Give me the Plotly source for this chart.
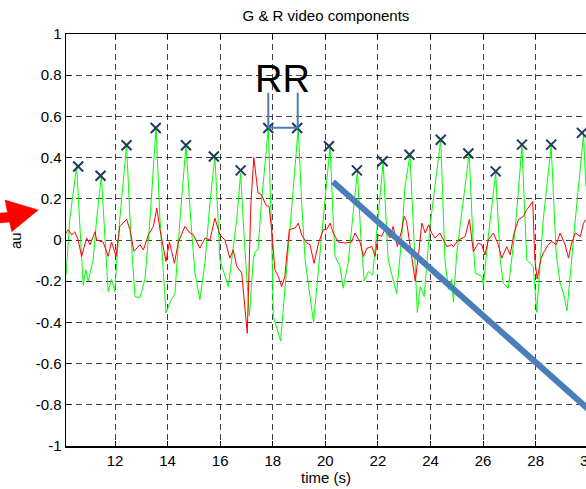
import plotly.graph_objects as go

# ---------------- data ----------------
green_t = [10.14, 10.28, 10.54, 10.64, 10.79, 10.89, 10.98, 11.17, 11.30, 11.48, 11.61, 11.74, 11.87, 11.99,
           12.18, 12.44, 12.59, 12.76, 12.95, 13.14, 13.33, 13.56, 13.71, 13.94, 14.10, 14.28, 14.47, 14.70,
           14.88, 15.04, 15.23, 15.43, 15.61, 15.80, 15.92, 15.99, 16.31, 16.44, 16.63, 16.78, 16.91, 17.11,
           17.26, 17.33, 17.44, 17.57, 17.83, 17.96, 18.02, 18.30, 18.53, 18.72, 18.97, 19.10, 19.23, 19.55,
           19.73, 19.86, 19.98, 20.18, 20.30, 20.37, 20.56, 20.68, 20.87, 21.04, 21.22, 21.35, 21.48, 21.64,
           21.80, 21.95, 22.20, 22.39, 22.71, 22.91, 23.03, 23.22, 23.35, 23.50, 23.61, 23.76, 23.98, 24.17,
           24.39, 24.55, 24.68, 24.81, 24.87, 25.00, 25.25, 25.47, 25.61, 25.70, 25.95, 26.01, 26.20, 26.48,
           26.65, 26.77, 26.96, 27.22, 27.48, 27.66, 27.91, 28.04, 28.29, 28.59, 28.78, 28.93, 29.06, 29.19,
           29.51, 29.82, 29.91]
green_v = [-0.17, 0.10, 0.357, 0.10, -0.22, -0.145, -0.20, -0.096, 0.10, 0.31, 0.02, -0.25, -0.19, -0.25,
           0.10, 0.46, 0.05, -0.275, -0.28, -0.19, 0.10, 0.544, 0.10, -0.355, -0.30, -0.26, 0.10, 0.46,
           0.10, -0.16, -0.29, -0.10, 0.18, 0.405, 0.10, -0.096, -0.226, -0.096, 0.10, 0.325, 0.02, -0.37,
           -0.096, -0.056, -0.048, 0.18, 0.544, 0.02, -0.37, -0.49, -0.145, 0.18, 0.544, 0.18, -0.096, -0.40,
           -0.16, 0.0, 0.16, 0.455, 0.10, -0.08, -0.13, -0.234, -0.11, 0.10, 0.333, 0.02, -0.20, -0.153,
           -0.17, 0.034, 0.38, -0.096, -0.26, 0.02, 0.26, 0.414, 0.02, -0.352, -0.226, -0.275, 0.066, 0.26,
           0.487, -0.096, -0.24, -0.19, -0.30, -0.064, 0.18, 0.42, 0.02, -0.16, -0.177, -0.22, 0.02, 0.325,
           -0.096, -0.21, -0.234, 0.05, 0.455, -0.096, -0.13, -0.352, 0.10, 0.455, -0.064, -0.21, -0.26, -0.343,
           0.10, 0.51, 0.26]

red_t = [10.14, 10.22, 10.35, 10.47, 10.60, 10.73, 10.92, 11.05, 11.24, 11.30, 11.55, 11.74, 11.87, 12.04,
         12.18, 12.44, 12.57, 12.72, 12.95, 13.08, 13.27, 13.46, 13.59, 13.71, 13.94, 14.07, 14.26, 14.41,
         14.66, 14.85, 14.98, 15.23, 15.43, 15.61, 15.80, 15.99, 16.18, 16.37, 16.50, 16.63, 16.82, 16.95,
         17.03, 17.17, 17.28, 17.44, 17.57, 17.74, 17.86, 17.96, 18.08, 18.21, 18.34, 18.46, 18.63, 18.85,
         18.97, 19.10, 19.29, 19.42, 19.57, 19.74, 19.92, 20.05, 20.18, 20.30, 20.49, 20.75, 21.00, 21.13,
         21.32, 21.45, 21.58, 21.77, 21.89, 22.01, 22.14, 22.26, 22.46, 22.58, 22.74, 22.91, 23.00, 23.09,
         23.22, 23.42, 23.55, 23.67, 23.80, 23.93, 24.04, 24.17, 24.36, 24.49, 24.62, 24.81, 24.87, 25.06,
         25.32, 25.48, 25.63, 25.82, 25.95, 26.07, 26.20, 26.39, 26.58, 26.71, 26.90, 27.03, 27.18, 27.35,
         27.54, 27.66, 27.78, 27.89, 27.97, 28.06, 28.19, 28.29, 28.48, 28.61, 28.78, 28.93, 29.12, 29.25,
         29.37, 29.51, 29.70, 29.82, 29.91]
red_v = [0.034, 0.05, 0.025, 0.04, 0.0, -0.08, 0.01, -0.023, 0.04, 0.0, -0.01, -0.08, -0.01, -0.08,
         0.066, 0.10, 0.05, -0.055, -0.023, -0.048, 0.025, 0.066, 0.155, 0.05, -0.104, -0.01, -0.113, -0.01,
         0.066, 0.034, 0.025, -0.04, 0.01, 0.0, 0.106, 0.025, 0.0, -0.088, -0.048, -0.128, -0.16, -0.323,
         -0.453, 0.18, 0.40, 0.228, 0.22, 0.17, 0.163, 0.05, -0.145, -0.177, -0.226, -0.177, 0.05, 0.058,
         0.082, 0.025, -0.015, -0.023, -0.113, -0.015, 0.05, 0.05, 0.082, 0.034, -0.01, -0.015, -0.01, 0.034,
         -0.01, -0.08, -0.04, -0.032, -0.08, 0.025, 0.017, 0.05, 0.01, 0.066, -0.032, 0.05, 0.115, 0.09,
         -0.032, -0.20, -0.064, 0.082, 0.034, 0.074, 0.034, 0.01, 0.034, 0.0, -0.032, -0.023, -0.032, 0.0,
         0.017, 0.10, -0.056, -0.015, -0.023, -0.072, 0.0, 0.034, -0.023, -0.088, -0.032, -0.072, 0.034, 0.10,
         0.115, 0.147, 0.17, 0.187, -0.096, -0.19, -0.096, -0.064, -0.023, -0.007, -0.023, 0.034, -0.023, -0.088,
         -0.015, 0.034, 0.017, 0.082, 0.10]

peak_t = [10.60, 11.45, 12.44, 13.55, 14.70, 15.76, 16.78, 17.83, 18.93, 20.14, 21.20, 22.18, 23.20,
          24.39, 25.44, 26.48, 27.48, 28.59, 29.76]
peak_v = [0.357, 0.312, 0.46, 0.544, 0.46, 0.405, 0.338, 0.544, 0.544, 0.455, 0.338, 0.382, 0.414,
          0.487, 0.42, 0.333, 0.463, 0.463, 0.52]

x_ticks = [12, 14, 16, 18, 20, 22, 24, 26, 28, 30]
y_ticks = [-1, -0.8, -0.6, -0.4, -0.2, 0, 0.2, 0.4, 0.6, 0.8, 1]
y_tick_text = ["-1", "-0.8", "-0.6", "-0.4", "-0.2", "0", "0.2", "0.4", "0.6", "0.8", "1"]

# overlay annotations (drawn on top of the chart in the reference)
trend_line = [(20.29, 0.283), (30.3, -0.855)]
rr_left, rr_right, rr_top, rr_bottom = 17.83, 18.95, 0.715, 0.545

FONT = "Liberation Sans, Arial, sans-serif"
BLUE = "#4A7EBB"

fig = go.Figure()
fig.add_trace(go.Scatter(x=green_t, y=green_v, mode="lines",
                         line=dict(color="#00FF00", width=1), showlegend=False))
fig.add_trace(go.Scatter(x=red_t, y=red_v, mode="lines",
                         line=dict(color="#FF0000", width=1), showlegend=False))
fig.add_trace(go.Scatter(x=peak_t, y=peak_v, mode="markers",
                         marker=dict(symbol="x-thin", size=10, color="#1F3A5F",
                                     line=dict(color="#1F3A5F", width=2)),
                         showlegend=False))

shapes = []
# thick blue diagonal line
shapes.append(dict(type="line", xref="x", yref="y",
                   x0=trend_line[0][0], y0=trend_line[0][1], x1=trend_line[1][0], y1=trend_line[1][1],
                   line=dict(color=BLUE, width=6)))
# RR bracket
shapes.append(dict(type="line", xref="x", yref="y", x0=rr_left, x1=rr_left, y0=rr_top, y1=rr_bottom,
                   line=dict(color=BLUE, width=2)))
shapes.append(dict(type="line", xref="x", yref="y", x0=rr_right, x1=rr_right, y0=rr_top, y1=rr_bottom,
                   line=dict(color=BLUE, width=2)))
shapes.append(dict(type="line", xref="x", yref="y", x0=rr_left, x1=rr_right, y0=rr_bottom, y1=rr_bottom,
                   line=dict(color=BLUE, width=2)))
# red arrow on the left (paper coordinates, outside the plot area)
arrow_path = ("M -0.1365 0.5643 L -0.1125 0.5667 L -0.1173 0.5971 L -0.0533 0.5728 "
              "L -0.1044 0.5201 L -0.1085 0.5437 L -0.1365 0.5400 Z")
shapes.append(dict(type="path", xref="paper", yref="paper", path=arrow_path,
                   fillcolor="#FF0000", line=dict(color="#FF0000", width=0.5)))

annotations = [
    dict(text="RR", x=18.36, y=0.78, xref="x", yref="y", showarrow=False,
         font=dict(family=FONT, size=38, color="black"), xanchor="center", yanchor="middle"),
    dict(text="au", x=-0.096, y=0.4976, xref="paper", yref="paper", showarrow=False, textangle=-90,
         font=dict(family=FONT, size=15, color="black"), xanchor="center", yanchor="middle"),
    dict(text="30", x=1.0044, y=-0.035, xref="paper", yref="paper", showarrow=False,
         font=dict(family=FONT, size=15, color="black"), xanchor="center", yanchor="middle"),
]

axis_common = dict(showline=True, linecolor="black", linewidth=1.5, ticks="inside", ticklen=5,
                   tickcolor="black", tickwidth=1, showgrid=True, gridcolor="rgba(0,0,0,0.75)",
                   gridwidth=1, griddash="6px,4px", zeroline=False,
                   tickfont=dict(family=FONT, size=15, color="black"))

fig.update_layout(
    width=586, height=489,
    margin=dict(l=66, r=0, t=34, b=43, autoexpand=False),
    paper_bgcolor="white", plot_bgcolor="white",
    title=dict(text="G & R video components", x=0.5, xref="paper", xanchor="center",
               y=1 - 15.5 / 489, yref="container", yanchor="middle",
               font=dict(family=FONT, size=15, color="black")),
    xaxis=dict(range=[10.136, 29.915], tickvals=x_ticks, mirror="ticks",
               title=dict(text="time (s)", font=dict(family=FONT, size=15, color="black"), standoff=2),
               **axis_common),
    yaxis=dict(range=[-1, 1], tickvals=y_ticks, ticktext=y_tick_text, mirror=False,
               **axis_common),
    shapes=shapes,
    annotations=annotations,
    hovermode=False,
)

fig.write_html("out.html",
               config=dict(displayModeBar=False, staticPlot=True),
               post_script="document.body.style.margin='0';document.body.style.padding='0';"
                           "document.body.style.overflow='hidden';")
